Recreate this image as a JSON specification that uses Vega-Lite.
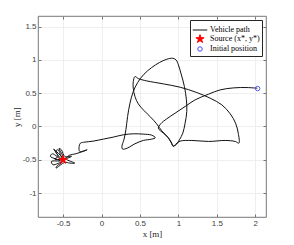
{
  "$schema": "https://vega.github.io/schema/vega-lite/v6.json",
  "autosize": "none",
  "width": 228,
  "height": 201,
  "padding": {"left": 38, "top": 16, "right": 28, "bottom": 28},
  "background": "white",
  "view": {"stroke": "#555555", "strokeWidth": 0.8},
  "config": {
    "axis": {
      "labelFont": "Liberation Sans",
      "labelFontSize": 8,
      "labelColor": "#404040",
      "titleFont": "Liberation Serif",
      "titleFontSize": 9,
      "titleFontWeight": "normal",
      "titleColor": "#262626",
      "domainColor": "#555555",
      "domainWidth": 0.8,
      "tickColor": "#555555",
      "tickWidth": 0.8,
      "gridColor": "#ebebeb",
      "gridWidth": 0.8
    },
    "legend": {
      "orient": "top-right",
      "offset": 4,
      "title": null,
      "strokeColor": "#262626",
      "fillColor": "white",
      "padding": 2,
      "labelFont": "Liberation Serif",
      "labelFontSize": 8,
      "labelColor": "black",
      "rowPadding": -5,
      "labelOffset": 2,
      "symbolStrokeWidth": 1,
      "cornerRadius": 0
    }
  },
  "datasets": {
    "path": [
      {"i":1,"x":2.026,"y":0.575},{"i":2,"x":1.891,"y":0.585},{"i":3,"x":1.717,"y":0.58},{"i":4,"x":1.543,"y":0.55},
      {"i":5,"x":1.391,"y":0.485},{"i":6,"x":1.217,"y":0.40},{"i":7,"x":1.087,"y":0.30},{"i":8,"x":0.957,"y":0.20},
      {"i":9,"x":0.848,"y":0.115},{"i":10,"x":0.770,"y":0.04},{"i":11,"x":0.739,"y":-0.025},{"i":12,"x":0.804,"y":-0.10},
      {"i":13,"x":0.870,"y":-0.17},{"i":14,"x":0.913,"y":-0.25},{"i":15,"x":0.935,"y":-0.30},{"i":16,"x":0.970,"y":-0.26},
      {"i":17,"x":1.022,"y":-0.22},{"i":18,"x":1.174,"y":-0.21},{"i":19,"x":1.391,"y":-0.225},{"i":20,"x":1.609,"y":-0.21},
      {"i":21,"x":1.739,"y":-0.225},{"i":22,"x":1.787,"y":-0.25},{"i":23,"x":1.778,"y":-0.10},{"i":24,"x":1.743,"y":0.05},
      {"i":25,"x":1.674,"y":0.19},{"i":26,"x":1.565,"y":0.325},{"i":27,"x":1.413,"y":0.425},{"i":28,"x":1.239,"y":0.51},
      {"i":29,"x":1.022,"y":0.59},{"i":30,"x":0.804,"y":0.64},{"i":31,"x":0.587,"y":0.685},{"i":32,"x":0.478,"y":0.72},
      {"i":33,"x":0.435,"y":0.75},{"i":34,"x":0.413,"y":0.675},{"i":35,"x":0.413,"y":0.575},{"i":36,"x":0.435,"y":0.45},
      {"i":37,"x":0.478,"y":0.34},{"i":38,"x":0.552,"y":0.24},{"i":39,"x":0.639,"y":0.14},{"i":40,"x":0.717,"y":0.04},
      {"i":41,"x":0.783,"y":-0.065},{"i":42,"x":0.861,"y":-0.16},{"i":43,"x":0.904,"y":-0.24},{"i":44,"x":0.926,"y":-0.29},
      {"i":45,"x":0.965,"y":-0.28},{"i":46,"x":1.013,"y":-0.20},{"i":47,"x":1.057,"y":-0.10},{"i":48,"x":1.087,"y":0.05},
      {"i":49,"x":1.109,"y":0.225},{"i":50,"x":1.104,"y":0.40},{"i":51,"x":1.078,"y":0.60},{"i":52,"x":1.035,"y":0.79},
      {"i":53,"x":1.0,"y":0.925},{"i":54,"x":0.970,"y":1.0},{"i":55,"x":0.926,"y":1.025},{"i":56,"x":0.848,"y":1.01},
      {"i":57,"x":0.752,"y":0.96},{"i":58,"x":0.652,"y":0.885},{"i":59,"x":0.552,"y":0.785},{"i":60,"x":0.470,"y":0.66},
      {"i":61,"x":0.413,"y":0.525},{"i":62,"x":0.370,"y":0.35},{"i":63,"x":0.339,"y":0.15},{"i":64,"x":0.317,"y":-0.05},
      {"i":65,"x":0.291,"y":-0.20},{"i":66,"x":0.265,"y":-0.30},{"i":67,"x":0.274,"y":-0.34},{"i":68,"x":0.335,"y":-0.325},
      {"i":69,"x":0.435,"y":-0.26},{"i":70,"x":0.543,"y":-0.21},{"i":71,"x":0.652,"y":-0.19},{"i":72,"x":0.70,"y":-0.17},
      {"i":73,"x":0.652,"y":-0.13},{"i":74,"x":0.543,"y":-0.115},{"i":75,"x":0.413,"y":-0.11},{"i":76,"x":0.283,"y":-0.125},
      {"i":77,"x":0.152,"y":-0.16},{"i":78,"x":0.022,"y":-0.19},{"i":79,"x":-0.109,"y":-0.22},{"i":80,"x":-0.217,"y":-0.235},
      {"i":81,"x":-0.274,"y":-0.25},{"i":82,"x":-0.291,"y":-0.30},{"i":83,"x":-0.283,"y":-0.375},{"i":84,"x":-0.187,"y":-0.35},
      {"i":85,"x":-0.265,"y":-0.385},{"i":86,"x":-0.335,"y":-0.41},{"i":87,"x":-0.413,"y":-0.43},{"i":88,"x":-0.5,"y":-0.49},
      {"i":89,"x":-0.565,"y":-0.35},{"i":90,"x":-0.596,"y":-0.375},{"i":91,"x":-0.522,"y":-0.50},{"i":92,"x":-0.639,"y":-0.41},
      {"i":93,"x":-0.665,"y":-0.45},{"i":94,"x":-0.535,"y":-0.515},{"i":95,"x":-0.652,"y":-0.525},{"i":96,"x":-0.630,"y":-0.575},
      {"i":97,"x":-0.509,"y":-0.53},{"i":98,"x":-0.583,"y":-0.60},{"i":99,"x":-0.591,"y":-0.625},{"i":100,"x":-0.478,"y":-0.54},
      {"i":101,"x":-0.413,"y":-0.55},{"i":102,"x":-0.348,"y":-0.55},{"i":103,"x":-0.457,"y":-0.49},{"i":104,"x":-0.391,"y":-0.45},
      {"i":105,"x":-0.478,"y":-0.45},{"i":106,"x":-0.522,"y":-0.35},{"i":107,"x":-0.552,"y":-0.33},{"i":108,"x":-0.491,"y":-0.475},
      {"i":109,"x":-0.622,"y":-0.34},{"i":110,"x":-0.565,"y":-0.45},{"i":111,"x":-0.609,"y":-0.49},{"i":112,"x":-0.5,"y":-0.50}
    ],
    "markers": [
      {"series": "Source (x*, y*)", "x": -0.5, "y": -0.5},
      {"series": "Initial position", "x": 2.03, "y": 0.57}
    ]
  },
  "layer": [
    {
      "data": {"name": "path"},
      "mark": {"type": "line", "stroke": "#111111", "strokeWidth": 1, "interpolate": "catmull-rom"},
      "encoding": {
        "x": {
          "field": "x", "type": "quantitative",
          "scale": {"domain": [-0.826, 2.139], "nice": false, "zero": false},
          "axis": {
            "orient": "bottom", "title": "x  [m]", "values": [-0.5, 0, 0.5, 1, 1.5, 2],
            "labelExpr": "'' + datum.value", "grid": true, "tickSize": -3, "labelPadding": 5,
            "titlePadding": 2, "domain": false
          }
        },
        "y": {
          "field": "y", "type": "quantitative",
          "scale": {"domain": [-1.36, 1.66], "nice": false, "zero": false},
          "axis": {
            "orient": "left", "title": "y  [m]", "values": [-1, -0.5, 0, 0.5, 1, 1.5],
            "labelExpr": "'' + datum.value", "grid": true, "tickSize": -3, "labelPadding": 5,
            "titlePadding": 1, "domain": false
          }
        },
        "order": {"field": "i", "type": "quantitative"}
      }
    },
    {
      "data": {"name": "markers"},
      "mark": {"type": "point", "strokeWidth": 0.9, "opacity": 1},
      "encoding": {
        "x": {
          "field": "x", "type": "quantitative",
          "axis": {"orient": "top", "title": null, "labels": false, "grid": false, "tickSize": -3, "domain": false, "values": [-0.5, 0, 0.5, 1, 1.5, 2]}
        },
        "y": {
          "field": "y", "type": "quantitative",
          "axis": {"orient": "right", "title": null, "labels": false, "grid": false, "tickSize": -3, "domain": false, "values": [-1, -0.5, 0, 0.5, 1, 1.5]}
        },
        "shape": {
          "field": "series", "type": "nominal",
          "scale": {
            "domain": ["Vehicle path", "Source (x*, y*)", "Initial position"],
            "range": ["stroke", "M0,-1L0.225,-0.309L0.951,-0.309L0.363,0.118L0.588,0.809L0,0.382L-0.588,0.809L-0.363,0.118L-0.951,-0.309L-0.225,-0.309Z", "circle"]
          }
        },
        "stroke": {
          "field": "series", "type": "nominal",
          "scale": {"domain": ["Vehicle path", "Source (x*, y*)", "Initial position"], "range": ["#111111", "#ff0000", "#4a4aff"]}
        },
        "fill": {
          "field": "series", "type": "nominal",
          "scale": {"domain": ["Vehicle path", "Source (x*, y*)", "Initial position"], "range": ["transparent", "#ff0000", "transparent"]}
        },
        "size": {
          "field": "series", "type": "nominal",
          "scale": {"type": "ordinal", "domain": ["Vehicle path", "Source (x*, y*)", "Initial position"], "range": [210, 75, 20]}
        }
      }
    }
  ],
  "resolve": {"axis": {"x": "independent", "y": "independent"}}
}
